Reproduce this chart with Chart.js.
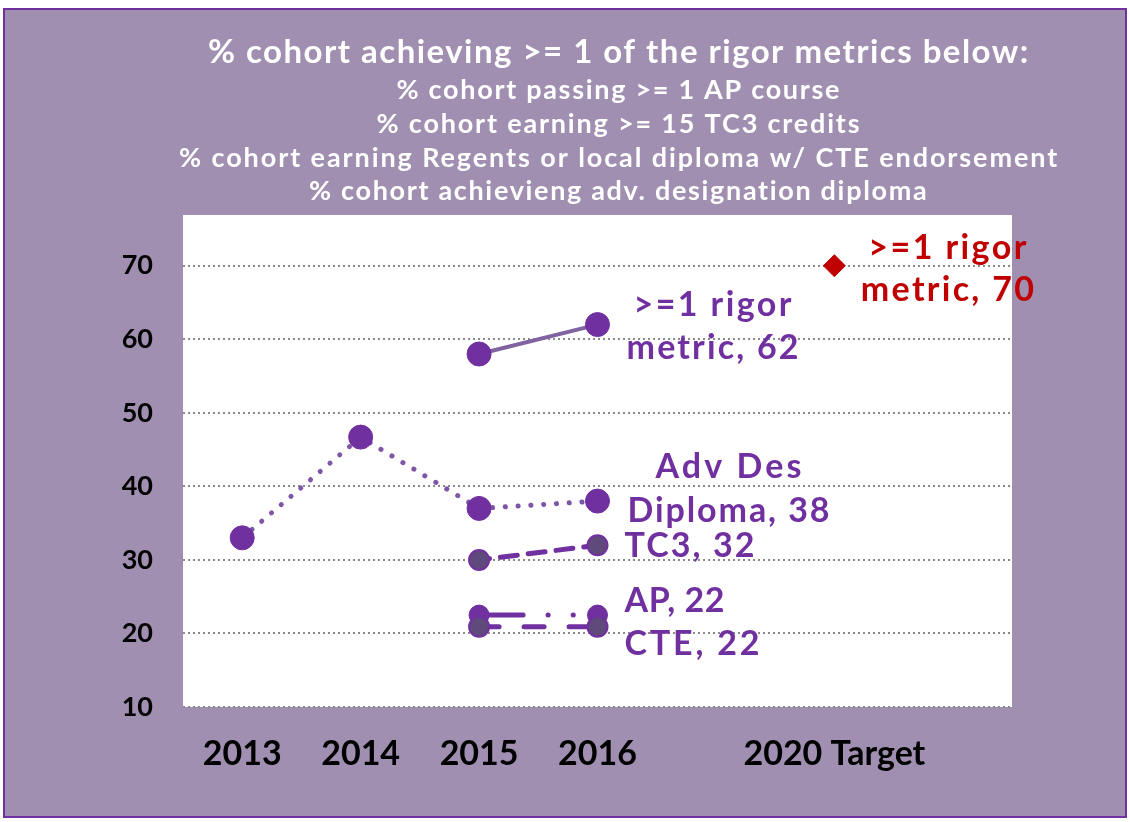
<!DOCTYPE html>
<html><head><meta charset="utf-8">
<script src="https://cdn.jsdelivr.net/npm/chart.js@4.4.1/dist/chart.umd.min.js"></script>
<style>html,body{margin:0;padding:0;background:#fff;overflow:hidden}</style>
</head><body>
<canvas id="c" width="1130" height="822"></canvas>
<script>
// ---- data ----
const categories = ['2013', '2014', '2015', '2016', '', '2020 Target', ''];
const rigorMetric = [null, null, 58, 62, null, null, null];
const advDesDiploma = [33, 46.7, 37, 38, null, null, null];
const tc3Credits = [null, null, 30, 32, null, null, null];
const apCourse = [null, null, 22.5, 22.5, null, null, null];
const cteEndorsement = [null, null, 20.9, 20.9, null, null, null];
const target2020 = [null, null, null, null, null, 70, null];
const yTickValues = [10, 20, 30, 40, 50, 60, 70];
const titleMain = '% cohort achieving >= 1 of the rigor metrics below:';
const titleSubLines = [
  '% cohort passing >= 1 AP course',
  '% cohort earning >= 15 TC3 credits',
  '% cohort earning Regents or local diploma w/ CTE endorsement',
  '% cohort achievieng adv. designation diploma'
];
const rigorLabel = ['>=1 rigor', 'metric, 62'];
const advLabel = ['Adv Des', 'Diploma, 38'];
const tc3Label = ['TC3, 32'];
const apLabel = ['AP, 22'];
const cteLabel = ['CTE, 22'];
const targetLabel = ['>=1 rigor', 'metric, 70'];

// ---- styles ----
const PURPLE = '#7030A0';
const LAVENDER = '#8064A2';
const DARKGREYPURPLE = '#604A7B';
const RED = '#C00000';
const BG = '#A08FB0';
const FONT = 'Lato, "Open Sans", sans-serif';

// draw text stretched (via letter spacing) to a target width
function drawFit(ctx, text, x, y, width, align) {
  ctx.letterSpacing = '0px';
  const w0 = ctx.measureText(text).width;
  const ls = Math.max(0, (width - w0) / Math.max(1, text.length - 1));
  ctx.letterSpacing = ls.toFixed(2) + 'px';
  ctx.textAlign = 'left';
  const left = align === 'center' ? x - width / 2 : x;
  ctx.fillText(text, left, y);
  ctx.letterSpacing = '0px';
}

const bgPlugin = {
  id: 'bg',
  beforeDraw(chart) {
    const ctx = chart.ctx, a = chart.chartArea;
    ctx.save();
    ctx.fillStyle = '#ffffff';
    ctx.fillRect(0, 0, chart.width, chart.height);
    ctx.fillStyle = BG;
    ctx.fillRect(4, 9, 1122, 808);
    ctx.strokeStyle = PURPLE;
    ctx.lineWidth = 2;
    ctx.strokeRect(4, 9, 1122, 808);
    ctx.fillStyle = '#ffffff';
    ctx.fillRect(a.left, a.top, a.right - a.left, a.bottom - a.top);
    // title
    ctx.textBaseline = 'middle';
    ctx.fillStyle = '#ffffff';
    ctx.font = 'bold 33px ' + FONT;
    drawFit(ctx, titleMain, 618, 52, 820, 'center');
    ctx.font = 'bold 27px ' + FONT;
    const ys = [90, 124, 158, 191];
    const ws = [443, 483, 878, 618];
    titleSubLines.forEach((t, i) => drawFit(ctx, t, 618, ys[i], ws[i], 'center'));
    ctx.restore();
  }
};

function drawLabel(chart, idx, val, lines, opts) {
  const x = chart.scales.x.getPixelForValue(idx);
  const y = chart.scales.y.getPixelForValue(val);
  const ctx = chart.ctx;
  ctx.save();
  ctx.fillStyle = opts.color;
  ctx.font = 'bold 34px ' + FONT;
  ctx.textBaseline = 'alphabetic';
  lines.forEach((t, i) => drawFit(ctx, t, x + opts.dx, y + opts.dy[i], opts.w[i], opts.align));
  ctx.restore();
}

const labelPlugin = {
  id: 'labels',
  afterDatasetsDraw(chart) {
    drawLabel(chart, 3, rigorMetric[3], rigorLabel, {color: PURPLE, align: 'center', dx: 115, dy: [-9, 34], w: [158, 172]});
    drawLabel(chart, 3, advDesDiploma[3], advLabel, {color: PURPLE, align: 'center', dx: 131, dy: [-23, 21], w: [146, 202]});
    drawLabel(chart, 3, tc3Credits[3], tc3Label, {color: PURPLE, align: 'left', dx: 27, dy: [12], w: [130]});
    drawLabel(chart, 3, apCourse[3], apLabel, {color: PURPLE, align: 'left', dx: 27, dy: [-3], w: [100]});
    drawLabel(chart, 3, cteEndorsement[3], cteLabel, {color: PURPLE, align: 'left', dx: 27, dy: [28], w: [135]});
    drawLabel(chart, 5, target2020[5], targetLabel, {color: RED, align: 'center', dx: 113, dy: [-7, 35], w: [158, 173]});
  }
};

new Chart(document.getElementById('c'), {
  type: 'line',
  data: {
    labels: categories,
    datasets: [
      {
        label: 'Adv Des Diploma', data: advDesDiploma,
        borderColor: '#7D56A8', borderWidth: 5, borderDash: [0.1, 12.7], borderCapStyle: 'round',
        pointRadius: 12, pointBackgroundColor: PURPLE, pointBorderColor: PURPLE, pointBorderWidth: 1, order: 5
      },
      {
        label: '>=1 rigor metric', data: rigorMetric,
        borderColor: LAVENDER, borderWidth: 4,
        pointRadius: 12, pointBackgroundColor: PURPLE, pointBorderColor: PURPLE, pointBorderWidth: 1, order: 4
      },
      {
        label: 'TC3', data: tc3Credits,
        borderColor: PURPLE, borderWidth: 5, borderDash: [17, 11], borderDashOffset: 6.5, borderCapStyle: 'round',
        pointRadius: 10, pointBackgroundColor: DARKGREYPURPLE, pointBorderColor: PURPLE, pointBorderWidth: 2, order: 3
      },
      {
        label: 'AP', data: apCourse,
        borderColor: PURPLE, borderWidth: 5, borderDash: [44, 25, 0.1, 25, 0.1, 25], borderCapStyle: 'round',
        pointRadius: 10, pointBackgroundColor: PURPLE, pointBorderColor: PURPLE, pointBorderWidth: 1, order: 2
      },
      {
        label: 'CTE', data: cteEndorsement,
        borderColor: PURPLE, borderWidth: 5, borderDash: [20, 25], borderCapStyle: 'round',
        pointRadius: 10, pointBackgroundColor: DARKGREYPURPLE, pointBorderColor: PURPLE, pointBorderWidth: 2, order: 1
      },
      {
        label: '2020 Target', data: target2020, showLine: false,
        pointStyle: 'rectRot', pointRadius: 11, pointBackgroundColor: RED, pointBorderColor: RED, order: 0
      }
    ]
  },
  options: {
    responsive: false,
    animation: false,
    devicePixelRatio: 1,
    spanGaps: false,
    layout: {padding: {top: 215, right: 118, left: 0, bottom: 0}},
    plugins: {legend: {display: false}, tooltip: {enabled: false}, title: {display: false}},
    scales: {
      x: {
        offset: true,
        grid: {display: false, drawTicks: false},
        border: {display: false},
        ticks: {color: '#000', font: {family: FONT, weight: 'bold', size: 34}, padding: 27, maxRotation: 0, autoSkip: false},
        afterFit(s) { s.height = 115; }
      },
      y: {
        min: 10, max: 76.9,
        afterBuildTicks(s) { s.ticks = yTickValues.map(v => ({value: v})); },
        grid: {color: '#8a8a8a', lineWidth: 2, drawTicks: false},
        border: {display: false, dash: [2, 3]},
        ticks: {color: '#000', font: {family: FONT, weight: 'bold', size: 27}, padding: 30},
        afterFit(s) { s.width = 183; }
      }
    }
  },
  plugins: [bgPlugin, labelPlugin]
});
</script>
</body></html>
